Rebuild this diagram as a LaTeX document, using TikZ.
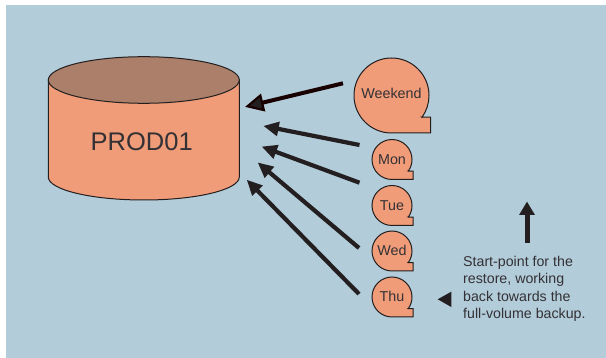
\documentclass[tikz,border=0pt]{standalone}
\usepackage{fontspec}
\setmainfont{Liberation Sans}
\usetikzlibrary{calc}
\definecolor{panelblue}{HTML}{B3CCD9}
\definecolor{salmon}{HTML}{F09C78}
\definecolor{topbrown}{HTML}{AB7F69}
\definecolor{ink}{HTML}{231F20}
\definecolor{txt}{HTML}{333135}
\tikzset{
  bubble/.style={draw=ink,line width=1pt,fill=salmon,line join=miter},
  bubbletext/.style={text=txt,font=\fontsize{14.3}{16}\selectfont,inner sep=0pt,anchor=base},
  shaft/.style={draw=ink,line width=4.2pt},
  tipfill/.style={fill=ink,draw=none},
  note/.style={text=txt,font=\fontsize{14.2}{17.35}\selectfont,align=left,inner sep=0pt,anchor=north west},
}
% centre x, centre y, radius, corner size, name, baseline offset, text
\newcommand{\callout}[7]{%
  \path[bubble] ({#1+#3*0.81},{#2+#3*0.58}) -- ({#1+#3+#4},{#2+#3*0.58}) -- ({#1+#3+#4},{#2+#3}) -- (#1,{#2+#3})
    arc[start angle=90,end angle=395.6,radius=#3] -- cycle;
  \node[bubbletext] (#5) at (#1,{#2+#6}) {#7};
}
% start x,y tip x,y names
\newcommand{\arrowto}[6]{%
  \coordinate (#5) at (#1,#2);
  \coordinate (#6) at (#3,#4);
  \draw[shaft,shorten >=9pt] (#5) -- (#6);
  \path[tipfill] (#6) -- ($(#6)!15pt!(#5)!7.5pt!90:(#5)$) -- ($(#6)!15pt!(#5)!7.5pt!-90:(#5)$) -- cycle;
}
\begin{document}
\begin{tikzpicture}[x=1pt,y=-1pt]
\useasboundingbox (0,0) rectangle (606,358);
\fill[panelblue] (6,5) rectangle (606,358);
% cylinder
\path[draw=ink,line width=1pt,fill=salmon] (48.3,80) -- (48.3,177) arc[start angle=180,end angle=360,x radius=95.5,y radius=-23] -- (239.3,80) -- cycle;
\path[draw=ink,line width=1pt,fill=topbrown] (143.8,80) ellipse[x radius=95.5,y radius=23.3];
\node[text=txt,font=\fontsize{25.5}{28}\selectfont,inner sep=0pt,anchor=base] (prod) at (141.7,151) {PROD01};
% callouts
\callout{391.5}{95.5}{37.5}{1.5}{weekend}{3.2}{Weekend}
\callout{392}{159.5}{20}{1}{mon}{5}{Mon}
\callout{392}{205.5}{20}{1}{tue}{5}{Tue}
\callout{392}{251}{20}{1}{wed}{5}{Wed}
\callout{392}{297}{20}{1}{thu}{5}{Thu}
% arrows
\coordinate (wkS) at (343,83.3);
\coordinate (wkT) at (247.5,106.3);
\draw[draw=black!90!red,line width=4pt,shorten >=10pt] (wkS) -- (wkT);
\path[fill=ink,draw=black!90!red,line width=2.2pt,line join=miter] (wkT) -- ($(wkT)!15pt!(wkS)!7.5pt!90:(wkS)$) -- ($(wkT)!15pt!(wkS)!7.5pt!-90:(wkS)$) -- cycle;
\arrowto{359.5}{145}{263.7}{126}{monS}{monT}
\arrowto{359.5}{182.7}{262}{146.7}{tueS}{tueT}
\arrowto{359}{248}{258}{162.7}{wedS}{wedT}
\arrowto{359}{294}{247}{180}{thuS}{thuT}
% start-point marks
\coordinate (upS) at (527,242.7);
\coordinate (upT) at (527,201.7);
\draw[draw=ink,line width=5pt,shorten >=5pt] (upS) -- (upT);
\path[tipfill] (upT) -- (535,215) -- (519,215) -- cycle;
\path[tipfill] (437.7,299.3) coordinate (leftT) -- (451.3,291.7) -- (451.3,307) -- cycle;
\node[note] (notetext) at (463,256) {Start-point for the\\restore, working\\back towards the\\full-volume backup.};
\end{tikzpicture}
\end{document}
